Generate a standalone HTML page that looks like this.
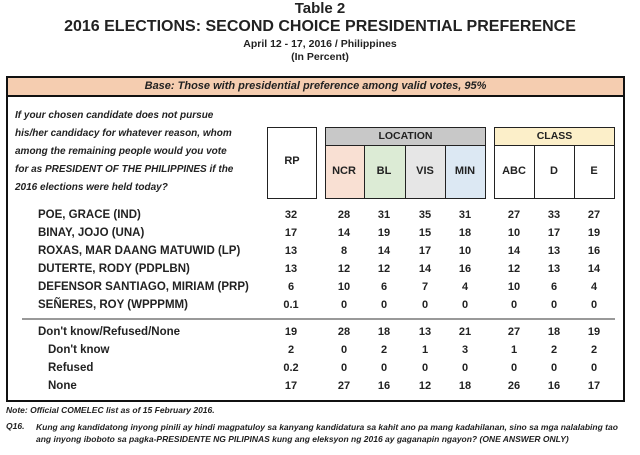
<!DOCTYPE html>
<html><head><meta charset="utf-8"><style>
body{margin:0;width:640px;height:455px;background:#fff;position:relative;overflow:hidden;font-family:"Liberation Sans",Arial,sans-serif;font-weight:bold;color:#222}
.a{position:absolute;white-space:nowrap}
.c{text-align:center}
.box{position:absolute;box-sizing:border-box}
.n{position:absolute;width:40px;text-align:center;font-size:11px}
.r{position:absolute;left:38px;font-size:11.5px}
</style></head><body>
<div class="a c" style="left:0;width:640px;top:0px;font-size:15px">Table 2</div>
<div class="a c" style="left:0;width:640px;top:18px;font-size:16px">2016 ELECTIONS: SECOND CHOICE PRESIDENTIAL PREFERENCE</div>
<div class="a c" style="left:0;width:640px;top:38px;font-size:10.5px">April 12 - 17, 2016 / Philippines</div>
<div class="a c" style="left:0;width:640px;top:51px;font-size:10.5px">(In Percent)</div>

<div class="box" style="left:6px;top:76px;width:619px;height:326px;border:2px solid #111"></div>
<div class="box" style="left:8px;top:78px;width:615px;height:19px;background:#f5cdb0;border-bottom:2px solid #111"></div>
<div class="a c" style="left:6px;width:619px;top:80px;font-size:11px;font-style:italic">Base: Those with presidential preference among valid votes, 95%</div>

<div class="a" style="left:15px;top:107px;font-size:10px;font-style:italic;line-height:18px">If your chosen candidate does not pursue<br>his/her candidacy for whatever reason, whom<br>among the remaining people would you vote<br>for as PRESIDENT OF THE PHILIPPINES if the<br>2016 elections were held today?</div>

<div class="box" style="left:267px;top:127px;width:50px;height:72px;border:1px solid #222"></div>
<div class="a c" style="left:267px;width:50px;top:155px;font-size:11px">RP</div>

<div class="box" style="left:325px;top:127px;width:161px;height:19px;background:#c8c8c8;border:1px solid #222"></div>
<div class="a c" style="left:325px;width:161px;top:130px;font-size:10.5px">LOCATION</div>
<div class="box" style="left:325px;top:145px;width:40px;height:54px;background:#f9e0d3;border:1px solid #222"></div>
<div class="box" style="left:364px;top:145px;width:42px;height:54px;background:#dcebd5;border:1px solid #222"></div>
<div class="box" style="left:405px;top:145px;width:41px;height:54px;background:#e6e6e6;border:1px solid #222"></div>
<div class="box" style="left:445px;top:145px;width:41px;height:54px;background:#dce8f3;border:1px solid #222"></div>
<div class="box" style="left:494px;top:127px;width:121px;height:19px;background:#fcefc9;border:1px solid #222"></div>
<div class="a c" style="left:494px;width:121px;top:130px;font-size:10.5px">CLASS</div>
<div class="box" style="left:494px;top:145px;width:41px;height:54px;border:1px solid #222"></div>
<div class="box" style="left:534px;top:145px;width:41px;height:54px;border:1px solid #222"></div>
<div class="box" style="left:574px;top:145px;width:41px;height:54px;border:1px solid #222"></div>
<div class="n" style="left:324px;top:165px">NCR</div>
<div class="n" style="left:364px;top:165px">BL</div>
<div class="n" style="left:405px;top:165px">VIS</div>
<div class="n" style="left:445px;top:165px">MIN</div>
<div class="n" style="left:494px;top:165px">ABC</div>
<div class="n" style="left:534px;top:165px">D</div>
<div class="n" style="left:574px;top:165px">E</div>

<div class="box" style="left:22px;top:318px;width:593px;height:2px;background:#999"></div>

<div id="rows"></div>
<script>
var rows=[
["POE, GRACE (IND)",209,["32","28","31","35","31","27","33","27"],38],
["BINAY, JOJO (UNA)",227,["17","14","19","15","18","10","17","19"],38],
["ROXAS, MAR DAANG MATUWID (LP)",245,["13","8","14","17","10","14","13","16"],38],
["DUTERTE, RODY (PDPLBN)",263,["13","12","12","14","16","12","13","14"],38],
["DEFENSOR SANTIAGO, MIRIAM (PRP)",281,["6","10","6","7","4","10","6","4"],38],
["SEÑERES, ROY (WPPPMM)",299,["0.1","0","0","0","0","0","0","0"],38],
["Don't know/Refused/None",326,["19","28","18","13","21","27","18","19"],38],
["Don't know",344,["2","0","2","1","3","1","2","2"],48],
["Refused",362,["0.2","0","0","0","0","0","0","0"],48],
["None",380,["17","27","16","12","18","26","16","17"],48]];
var xs=[271,324,364,405,445,494,534,574],h="";
rows.forEach(function(r){h+='<div class="r" style="top:'+r[1]+'px;left:'+r[3]+'px">'+r[0]+'</div>';
r[2].forEach(function(v,i){h+='<div class="n" style="left:'+xs[i]+'px;top:'+r[1]+'px">'+v+'</div>';});});
document.getElementById('rows').innerHTML=h;
</script>

<div class="a" style="left:6px;top:405px;font-size:8.5px;font-style:italic">Note: Official COMELEC list as of 15 February 2016.</div>
<div class="a" style="left:6px;top:421px;font-size:8.5px;font-style:italic">Q16.</div>
<div class="a" style="left:36px;top:421px;font-size:8.5px;font-style:italic;line-height:12px">Kung ang kandidatong inyong pinili ay hindi magpatuloy sa kanyang kandidatura sa kahit ano pa mang kadahilanan, sino sa mga nalalabing tao<br>ang inyong iboboto sa pagka-PRESIDENTE NG PILIPINAS kung ang eleksyon ng 2016 ay gaganapin ngayon? (ONE ANSWER ONLY)</div>
</body></html>
